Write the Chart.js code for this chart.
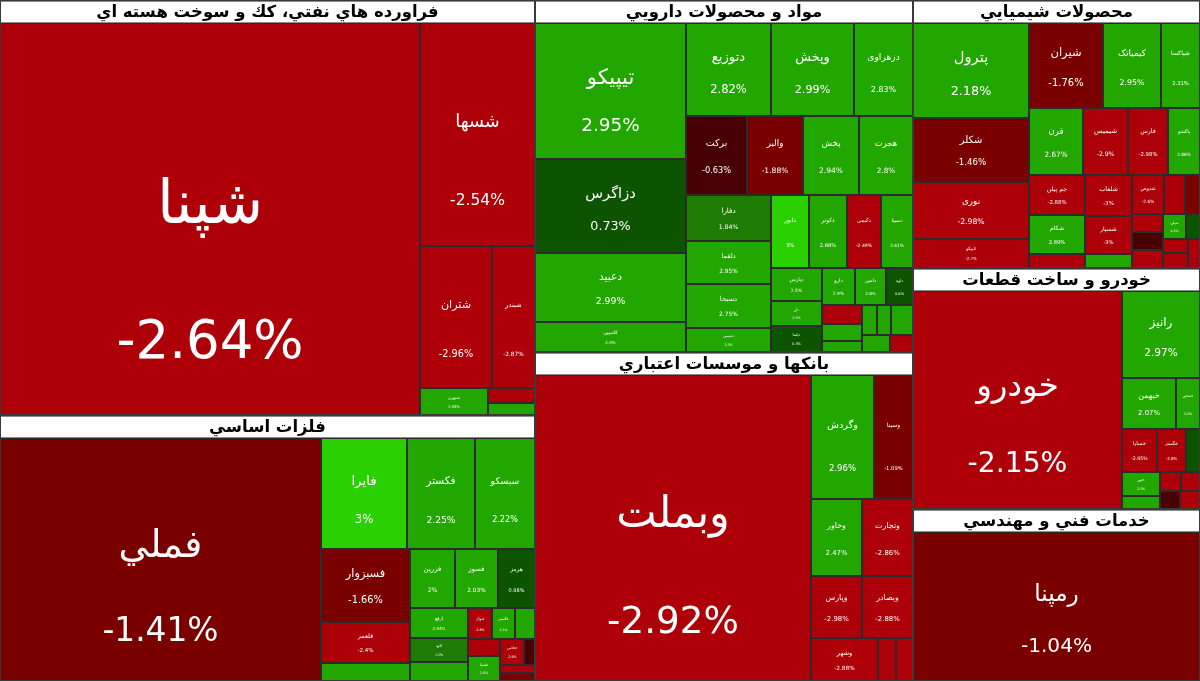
<!DOCTYPE html>
<html lang="fa">
<head>
    <meta charset="UTF-8">
    <title>نقشه بازار</title>
    <script src="https://cdn.jsdelivr.net/npm/chart.js"></script>
    <style>
        body { margin: 0; background: #fff; }
        canvas { display: block; }
    </style>
</head>
<body>
    <canvas id="marketMap" width="1200" height="681"></canvas>

    <script>
        // sector titles, in layout order
        const sectorTitles = [
            'فراورده هاي نفتي، كك و سوخت هسته اي',
            'فلزات اساسي',
            'مواد و محصولات دارويي',
            'بانكها و موسسات اعتباري',
            'محصولات شيميايي',
            'خودرو و ساخت قطعات',
            'خدمات فني و مهندسي'
        ];

        // values are market value (arbitrary units), changes are daily % change
        const oilNames = ['شپنا', 'شسها', 'شتران', 'شبندر', 'شبهرن', 'شرانل', 'شپاس'];
        const oilValues = [1743.0, 270.8, 108.7, 64.9, 19.1, 7.1, 6.3];
        const oilChanges = [-2.64, -2.54, -2.96, -2.87, 2.95, -2.80, 2.40];

        const metalNames = ['فملي', 'فایرا', 'فکستر', 'سیسکو', 'فسبزوار', 'فلعمر', 'فهبا', 'فزرین', 'فسوز', 'هرمز', 'ارفع',
            'کاوه', 'فمس', 'فنوال', 'فگستر', 'فجر', 'فنورد', 'فسپا', 'فخاس', 'فولای', 'فجوش', 'فاسمین'];
        const metalValues = [851.1, 104.1, 82.3, 72.6, 71.3, 40.8, 17.2, 29.1, 27.8, 24.0, 19.1,
            15.0, 12.3, 8.5, 7.7, 7.2, 6.1, 8.7, 6.5, 3.3, 3.1, 3.1];
        const metalChanges = [-1.41, 3.00, 2.25, 2.22, -1.66, -2.40, 2.10, 2.00, 2.03, 0.98, 2.94,
            1.50, 2.03, -2.80, 2.30, 2.50, -2.50, 2.60, -2.90, -0.80, -2.70, -1.20];

        const pharmaNames = ['تیپیکو', 'دزاگرس', 'دعبید', 'کاسپین', 'دتوزیع', 'وپخش', 'دزهراوی', 'برکت', 'والبر', 'پخش', 'هجرت',
            'دفارا', 'دلقما', 'دسبحا', 'دشیمی', 'دابور', 'دکوثر', 'دکیمی', 'دسینا', 'دپارس', 'دلر', 'دیلما', 'دارو', 'دامین',
            'داوه', 'دفرا', 'دسانکو', 'دتماد', 'دکپسول', 'دشفا', 'دالبر', 'دزهرا', 'دارا'];
        const pharmaValues = [219.1, 151.4, 112.8, 48.3, 83.4, 82.4, 58.5, 51.2, 47.8, 46.9, 46.1,
            41.6, 38.3, 39.9, 22.0, 29.5, 29.5, 26.5, 25.0, 18.3, 13.9, 14.4, 13.1, 12.2,
            10.8, 8.0, 7.2, 4.9, 4.9, 4.3, 7.2, 5.3, 4.3];
        const pharmaChanges = [2.95, 0.73, 2.99, 2.90, 2.82, 2.99, 2.83, -0.63, -1.88, 2.94, 2.80,
            1.84, 2.95, 2.75, 2.50, 3.00, 2.88, -2.49, 2.61, 2.50, 2.50, 0.30, 2.90, 2.80,
            0.60, -2.60, 2.70, 2.50, 2.60, 2.40, 2.30, 2.90, -2.70];

        const bankNames = ['وبملت', 'وگردش', 'وسینا', 'وخاور', 'وتجارت', 'وپارس', 'وبصادر', 'وشهر', 'وسرمد', 'وکار'];
        const bankValues = [904.6, 83.2, 52.3, 42.2, 43.0, 33.5, 34.2, 30.7, 8.4, 7.9];
        const bankChanges = [-2.92, 2.96, -1.09, 2.47, -2.86, -2.98, -2.88, -2.88, -2.50, -2.60];

        const chemNames = ['پترول', 'شکلر', 'نوری', 'تاپیکو', 'شیران', 'کیمیاتک', 'شپاکسا', 'قرن', 'شیمیس', 'فارس', 'پاکشو',
            'جم پیلن', 'شکام', 'پارسان', 'شلعاب', 'شسپار', 'شسینا', 'شدوص', 'شفن', 'شخارک', 'شاراک', 'شنفت', 'شگویا',
            'شپلی', 'شفارس', 'شصدف', 'شملی', 'شبریز'];
        const chemValues = [120.2, 81.4, 72.6, 36.3, 68.6, 53.1, 36.6, 39.5, 32.3, 29.5, 23.3,
            24.7, 23.5, 8.2, 21.5, 19.6, 6.9, 14.0, 8.9, 6.6, 6.1, 6.1, 6.1,
            6.1, 3.9, 3.9, 3.9, 3.9];
        const chemChanges = [2.18, -1.46, -2.98, -2.70, -1.76, 2.95, 2.31, 2.67, -2.90, -2.98, 2.88,
            -2.88, 2.89, -2.70, -3.00, -3.00, 2.40, -2.60, -2.50, -1.50, -2.40, -0.80, -2.70,
            2.30, 0.50, -2.60, -2.80, -2.20];

        const autoNames = ['خودرو', 'رانیز', 'خبهمن', 'خمحور', 'خساپا', 'خگستر', 'خپارس', 'ختور', 'خمهر', 'خکاوه', 'خزامیا', 'خفنر', 'خاور'];
        const autoValues = [504.0, 74.4, 30.6, 13.9, 16.2, 13.9, 6.7, 9.9, 5.5, 4.4, 3.9, 3.9, 3.9];
        const autoChanges = [-2.15, 2.97, 2.07, 2.60, -2.85, -2.80, 0.60, 2.50, 2.40, -2.60, -2.40, -0.90, -2.70];

        const engNames = ['رمپنا'];
        const engValues = [492.4];
        const engChanges = [-1.04];

        const sectorNameLists = [oilNames, metalNames, pharmaNames, bankNames, chemNames, autoNames, engNames];
        const sectorValueLists = [oilValues, metalValues, pharmaValues, bankValues, chemValues, autoValues, engValues];
        const sectorChangeLists = [oilChanges, metalChanges, pharmaChanges, bankChanges, chemChanges, autoChanges, engChanges];

        const MAP_W = 1200, MAP_H = 681, HEADER = 23;
        const RATIO_COL = 2.2, RATIO_ROW = 1.618;
        const FONT = '"DejaVu Sans", Tahoma, sans-serif';

        function cellColor(c) {
            if (c >= 3) return '#2ad000';
            if (c >= 2) return '#22a700';
            if (c >= 1) return '#1e7c04';
            if (c >= 0) return '#0c5400';
            if (c > -1) return '#480004';
            if (c > -2) return '#7a0000';
            return '#ad0009';
        }

        function fmtPct(c) {
            return parseFloat(c.toFixed(2)) + '%';
        }

        const sum = arr => arr.reduce((s, n) => s + n.value, 0);

        // squarified layout (d3 style), nodes kept in given order;
        // near-square spaces are filled with a row first
        function squarify(nodes, x0, y0, x1, y1) {
            let value = sum(nodes);
            let i0 = 0, i1 = 0;
            const n = nodes.length;
            while (i0 < n) {
                const dx = x1 - x0, dy = y1 - y0;
                const dice = dx < dy * 1.1;
                let sumValue = nodes[i1++].value;
                let minValue = sumValue, maxValue = sumValue;
                const alpha = Math.max(dy / dx, dx / dy) / (value * (dice ? RATIO_ROW : RATIO_COL));
                let beta = sumValue * sumValue * alpha;
                let minRatio = Math.max(maxValue / beta, beta / minValue);
                for (; i1 < n; ++i1) {
                    const v = nodes[i1].value;
                    sumValue += v;
                    if (v < minValue) minValue = v;
                    if (v > maxValue) maxValue = v;
                    beta = sumValue * sumValue * alpha;
                    const newRatio = Math.max(maxValue / beta, beta / minValue);
                    if (newRatio > minRatio) { sumValue -= v; break; }
                    minRatio = newRatio;
                }
                const row = nodes.slice(i0, i1);
                const k = i1 >= n ? 1 : sumValue / value;
                if (dice) {
                    const yy = y0 + dy * k;
                    let x = x0;
                    row.forEach(nd => {
                        nd.x0 = x; x += dx * nd.value / sumValue; nd.x1 = x;
                        nd.y0 = y0; nd.y1 = yy;
                    });
                    y0 = yy;
                } else {
                    const xx = x0 + dx * k;
                    let y = y0;
                    row.forEach(nd => {
                        nd.y0 = y; y += dy * nd.value / sumValue; nd.y1 = y;
                        nd.x0 = x0; nd.x1 = xx;
                    });
                    x0 = xx;
                }
                value -= sumValue;
                i0 = i1;
            }
        }

        // sectors go in vertical strips, left to right
        function stripLayout(groups, w, h) {
            const total = sum(groups);
            const avgAspect = list => {
                const s = sum(list);
                const sw = w * s / total;
                return list.reduce((a, g) => {
                    const gh = h * g.value / s;
                    return a + Math.max(sw / gh, gh / sw);
                }, 0) / list.length;
            };
            let x = 0, cur = [];
            const place = list => {
                const s = sum(list);
                const sw = w * s / total;
                let y = 0;
                list.forEach(g => {
                    g.x0 = x; g.x1 = x + sw;
                    g.y0 = y; y += h * g.value / s; g.y1 = y;
                });
                x += sw;
            };
            groups.forEach(g => {
                if (cur.length && avgAspect(cur.concat([g])) > avgAspect(cur)) {
                    place(cur);
                    cur = [g];
                } else {
                    cur.push(g);
                }
            });
            if (cur.length) place(cur);
        }

        const sectors = sectorTitles.map((title, i) => {
            const stocks = sectorNameLists[i].map((name, j) => ({
                name: name,
                value: sectorValueLists[i][j],
                change: sectorChangeLists[i][j]
            }));
            return { title: title, stocks: stocks, value: sum(stocks) };
        });

        stripLayout(sectors, MAP_W, MAP_H);
        sectors.forEach(s => squarify(s.stocks, s.x0, s.y0 + HEADER, s.x1, s.y1));

        const treemapPlugin = {
            id: 'treemapCells',
            afterDraw(chart) {
                const ctx = chart.ctx;
                const xs = chart.scales.x, ys = chart.scales.y;
                const px = v => xs.getPixelForValue(v);
                const py = v => ys.getPixelForValue(v);
                ctx.save();
                ctx.textAlign = 'center';
                ctx.textBaseline = 'middle';

                sectors.forEach(sec => {
                    sec.stocks.forEach(st => {
                        const x0 = Math.round(px(st.x0)), x1 = Math.round(px(st.x1));
                        const y0 = Math.round(py(st.y0)), y1 = Math.round(py(st.y1));
                        const w = x1 - x0, h = y1 - y0;
                        if (w <= 0 || h <= 0) return;
                        ctx.fillStyle = cellColor(st.change);
                        ctx.fillRect(x0, y0, w, h);
                        ctx.strokeStyle = '#2b2b2b';
                        ctx.lineWidth = 1;
                        ctx.strokeRect(x0 + 0.5, y0 + 0.5, w - 1, h - 1);

                        let size = Math.min(w, h) * 0.135;
                        size = Math.min(size, 56);
                        if (size < 3) return;
                        ctx.fillStyle = '#ffffff';
                        const cx = x0 + w / 2;
                        const nameY = y0 + h / 2 - Math.min(12, h * 0.15);
                        ctx.font = (size * 1.15) + 'px ' + FONT;
                        ctx.fillText(st.name, cx, nameY, w * 0.92);
                        ctx.font = size + 'px ' + FONT;
                        ctx.fillText(fmtPct(st.change), cx, nameY + h * 0.35, w * 0.92);
                    });

                    // sector header
                    const hx0 = Math.round(px(sec.x0)), hx1 = Math.round(px(sec.x1));
                    const hy0 = Math.round(py(sec.y0)), hy1 = Math.round(py(sec.y0 + HEADER));
                    ctx.fillStyle = '#ffffff';
                    ctx.fillRect(hx0, hy0, hx1 - hx0, hy1 - hy0);
                    ctx.strokeStyle = '#8c8c8c';
                    ctx.lineWidth = 1;
                    ctx.strokeRect(hx0 + 0.5, hy0 + 1.5, hx1 - hx0 - 1, hy1 - hy0 - 2);
                    ctx.fillStyle = '#000000';
                    ctx.font = 'bold 16.5px ' + FONT;
                    ctx.fillText(sec.title, (hx0 + hx1) / 2, (hy0 + hy1) / 2 + 1, hx1 - hx0 - 10);

                    // sector outline
                    const sy1 = Math.round(py(sec.y1));
                    ctx.strokeStyle = '#3a3a3a';
                    ctx.strokeRect(hx0 + 0.5, hy0 + 0.5, hx1 - hx0 - 1, sy1 - hy0 - 1);
                });
                ctx.restore();
            }
        };

        new Chart(document.getElementById('marketMap'), {
            type: 'scatter',
            data: { datasets: [] },
            options: {
                responsive: false,
                animation: false,
                devicePixelRatio: 1,
                layout: { padding: 0 },
                plugins: { legend: { display: false }, tooltip: { enabled: false } },
                scales: {
                    x: { type: 'linear', min: 0, max: MAP_W, display: false },
                    y: { type: 'linear', min: 0, max: MAP_H, reverse: true, display: false }
                }
            },
            plugins: [treemapPlugin]
        });
    </script>
</body>
</html>
